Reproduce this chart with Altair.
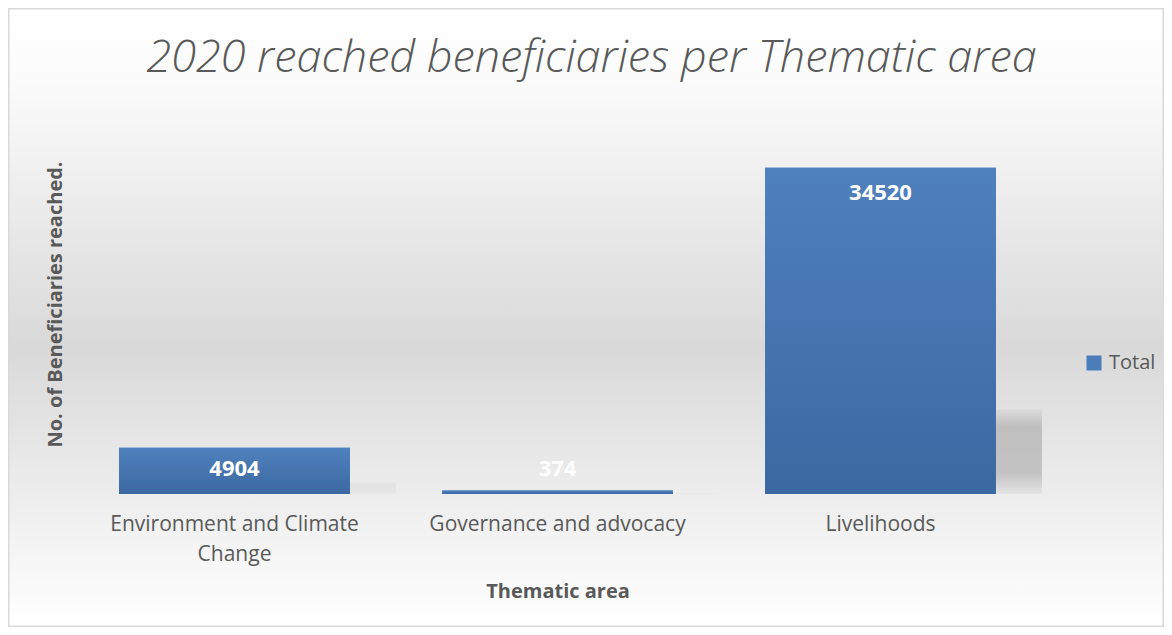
import altair as alt
import pandas as pd

# ---- data ----
categories = ["Environment and Climate Change", "Governance and advocacy", "Livelihoods"]
values = [4904, 374, 34520]
series = ["Total", "Total", "Total"]
chart_title = "2020 reached beneficiaries per Thematic area"

df = pd.DataFrame({"area": categories, "value": values, "series": series})

W, H = 969, 378
PL, PT, PR, PB = 65, 108, 122, 133
FONT = "Open Sans"
GREY = "#595959"

bg_grad = alt.LinearGradient(
    gradient="linear", x1=0, x2=0, y1=0, y2=1,
    stops=[
        alt.GradientStop(offset=0, color="#ffffff"),
        alt.GradientStop(offset=0.12, color="#fbfbfb"),
        alt.GradientStop(offset=0.55, color="#d9d9d9"),
        alt.GradientStop(offset=1, color="#ffffff"),
    ],
)
bar_grad = alt.LinearGradient(
    gradient="linear", x1=0, x2=0, y1=0, y2=1,
    stops=[
        alt.GradientStop(offset=0, color="#4f81be"),
        alt.GradientStop(offset=1, color="#3c68a1"),
    ],
)
shadow_grad = alt.LinearGradient(
    gradient="linear", x1=0, x2=0, y1=0, y2=1,
    stops=[
        alt.GradientStop(offset=0, color="#dadada"),
        alt.GradientStop(offset=0.2, color="#b6b6b6"),
        alt.GradientStop(offset=0.75, color="#b9b9b9"),
        alt.GradientStop(offset=1, color="#e2e2e2"),
    ],
)

bg = alt.Chart(pd.DataFrame({"k": [0]})).mark_rect(
    fill=bg_grad, stroke="#d9d9d9", strokeWidth=1.5, clip=False
).encode(
    x=alt.value(-PL + 0.75), x2=alt.value(W + PR - 0.75),
    y=alt.value(-PT + 0.75), y2=alt.value(H + PB - 0.75),
)

title_mark = alt.Chart(pd.DataFrame({"t": [chart_title]})).mark_text(
    font=FONT, fontSize=45, fontStyle="italic", fontWeight=300, color=GREY,
    align="center", baseline="alphabetic",
).encode(text="t:N", x=alt.value(W / 2 + 34), y=alt.value(-44))

x_enc = alt.X(
    "area:N", sort=categories,
    scale=alt.Scale(paddingInner=0.2854, paddingOuter=0.1427),
    title="Thematic area",
    axis=alt.Axis(
        labelAngle=0, labelFont=FONT, labelFontSize=21, labelColor=GREY,
        labelPadding=19, labelLimit=400, labelLineHeight=30, labelOverlap=False,
        labelExpr="datum.value == 'Environment and Climate Change' ? ['Environment and Climate', 'Change'] : datum.value",
        ticks=False, domain=False, grid=False, zindex=2,
        titleFont=FONT, titleFontSize=20, titleFontWeight="bold", titleColor=GREY,
        titleX=W / 2, titleY=97, titleBaseline="middle", titleAlign="center",
    ),
)

y_axis = alt.Axis(
    labels=False, ticks=False, domain=False, grid=False, zindex=2,
    title="No. of Beneficiaries reached.",
    titleFont=FONT, titleFontSize=20, titleFontWeight="bold", titleColor=GREY,
    titleAngle=270, titleX=-18, titleY=H / 2 - 1, titleBaseline="middle", titleAlign="center",
)
y_scale = alt.Scale(domain=[0, 40000], nice=False)

base = alt.Chart(df).encode(x=x_enc)

shadow = base.transform_calculate(sh="datum.value * 0.26").mark_bar(
    width=46, xOffset=138.5, fill=shadow_grad
).encode(
    y=alt.Y("sh:Q", scale=y_scale, axis=y_axis),
    opacity=alt.Opacity("value:Q", scale=alt.Scale(domain=[0, 34520], range=[0.05, 0.8]), legend=None),
)

flat = base.mark_bar().encode(
    y=alt.Y("value:Q", scale=y_scale, axis=y_axis),
    color=alt.Color(
        "series:N", scale=alt.Scale(range=["#4a7dba"]),
        legend=alt.Legend(
            title=None, orient="none", legendX=1011, legendY=237,
            symbolType="square", symbolSize=225, symbolStrokeWidth=0,
            labelFont=FONT, labelFontSize=20, labelColor=GREY, labelOffset=5,
            padding=0,
        ),
    ),
)

grad_bars = base.mark_bar(fill=bar_grad).encode(
    y=alt.Y("value:Q", scale=y_scale, axis=y_axis)
)

labels = base.transform_calculate(ly="max(datum.value, 5300)").mark_text(
    color="white", font=FONT, fontSize=22, fontWeight="bold", baseline="middle", dy=25
).encode(
    y=alt.Y("ly:Q", scale=y_scale, axis=y_axis),
    text=alt.Text("value:Q", format="d"),
)

chart = alt.layer(bg, shadow, flat, grad_bars, labels, title_mark).properties(
    width=W, height=H,
    padding={"left": PL, "top": PT, "right": PR, "bottom": PB},
    autosize=alt.AutoSizeParams(type="none"),
).configure_view(stroke=None).configure(background="white")

chart.save("out.html", embed_options={"renderer": "svg", "actions": False})
